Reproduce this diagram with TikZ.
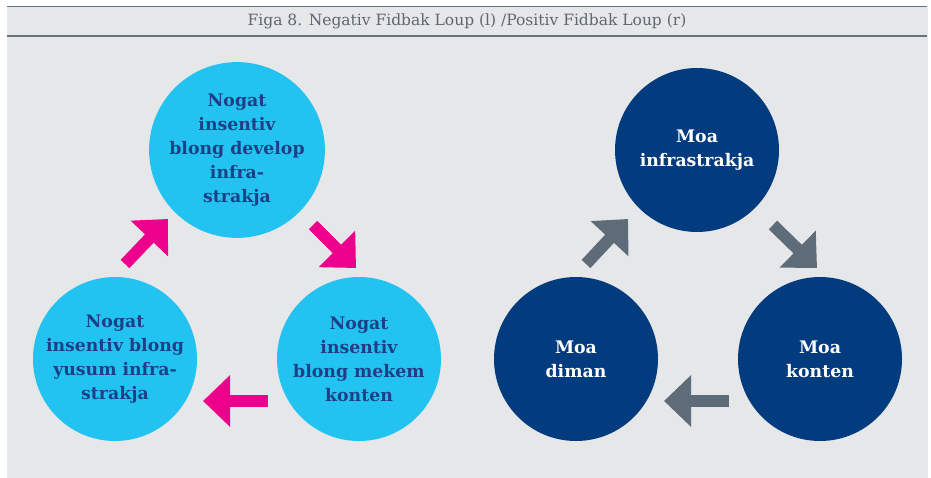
\documentclass[tikz,border=0pt]{standalone}
\usepackage{fontspec}
\setmainfont{DejaVu Serif}
\usetikzlibrary{arrows.meta,calc}

\definecolor{bggray}{HTML}{E6E7E9}
\definecolor{rulegray}{HTML}{66717C}
\definecolor{titlegray}{HTML}{5E6670}
\definecolor{lightblue}{HTML}{22C3F1}
\definecolor{navytext}{HTML}{1D3F86}
\definecolor{darkblue}{HTML}{033B7F}
\definecolor{negpink}{HTML}{EC008C}
\definecolor{posgray}{HTML}{5E6B78}

\tikzset{
  negcircle/.style={circle, fill=lightblue, minimum size=164pt, inner sep=0pt,
    align=center, text=navytext, font=\bfseries\fontsize{17.3}{24}\selectfont},
  poscircle/.style={circle, fill=darkblue, minimum size=164pt, inner sep=0pt,
    align=center, text=white, font=\bfseries\fontsize{17.3}{24}\selectfont},
  negarrow/.style={draw=negpink, line width=12pt, -{Triangle[length=27pt,width=50pt]}},
  posarrow/.style={draw=posgray, line width=12pt, -{Triangle[length=27pt,width=50pt]}}
}

\begin{document}
\begin{tikzpicture}[x=1pt,y=-1pt]
  \useasboundingbox (0,0) rectangle (931,478);
  \fill[bggray] (7,6) rectangle (928,478);
  \draw[rulegray, line width=1pt] (7,6.5) -- (927,6.5);
  \draw[rulegray, line width=1.6pt] (7,36) -- (927,36);
  \node[text=titlegray, font=\fontsize{15.5}{18}\selectfont] (title) at (467,21)
    {Figa 8. Negativ Fidbak Loup (l) /Positiv Fidbak Loup (r)};

  %Nodes
  \node[negcircle] at (237,150) (ndevelop) {Nogat\\insentiv\\blong develop\\infra-\\strakja};
  \node[negcircle] at (115,359) (nyusum) {Nogat\\insentiv blong\\yusum infra-\\strakja};
  \node[negcircle] at (359,359) (nmekem) {Nogat\\insentiv\\blong mekem\\konten};

  \node[poscircle] at (697,150) (pinfra) {Moa\\infrastrakja};
  \node[poscircle] at (576,359) (pdiman) {Moa\\diman};
  \node[poscircle] at (820,359) (pkonten) {Moa\\konten};

  %Arrows
  \draw[negarrow] ($(nyusum)+(10,-95)$) -- ($(ndevelop)+(-69,69)$);
  \draw[negarrow] ($(ndevelop)+(76,75)$) -- ($(nmekem)+(-3,-91)$);
  \draw[negarrow] ($(nmekem)+(-91,42)$) -- ($(nyusum)+(88,42)$);

  \draw[posarrow] ($(pdiman)+(10,-95)$) -- ($(pinfra)+(-69,69)$);
  \draw[posarrow] ($(pinfra)+(76,75)$) -- ($(pkonten)+(-3,-91)$);
  \draw[posarrow] ($(pkonten)+(-91,42)$) -- ($(pdiman)+(88,42)$);
\end{tikzpicture}
\end{document}
